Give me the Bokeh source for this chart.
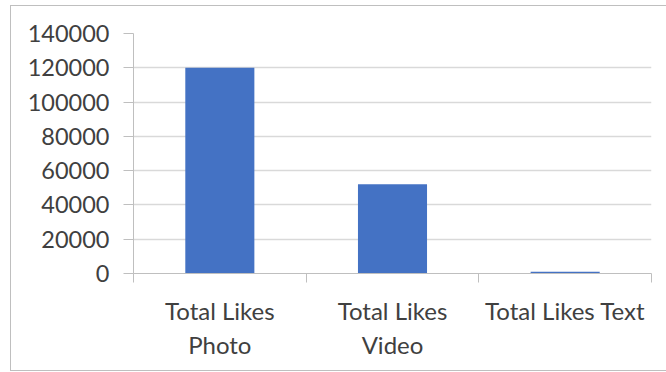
from bokeh.plotting import figure
from bokeh.models import Range1d, FixedTicker
from bokeh.embed import file_html
from bokeh.resources import INLINE

# Data
categories = ["Total Likes Photo", "Total Likes Video", "Total Likes Text"]
tick_labels = ["Total Likes\nPhoto", "Total Likes\nVideo", "Total Likes Text"]
likes = [120000, 52000, 1000]
y_ticks = [0, 20000, 40000, 60000, 80000, 100000, 120000, 140000]

FONT = "Lato"
TEXT = "#404040"
GRID = "#d9d9d9"
AXIS = "#bfbfbf"

centers = [i + 0.5 for i in range(len(categories))]
bounds = list(range(len(categories) + 1))

p = figure(
    width=656, height=366,
    x_range=Range1d(0, len(categories)),
    y_range=Range1d(0, 140000),
    output_backend="svg", toolbar_location=None,
    min_border_left=122, min_border_right=16,
    min_border_top=27, min_border_bottom=99,
    margin=(5, 0, 0, 10),
    styles={"border-left": "1px solid #bfbfbf",
            "border-top": "1px solid #bfbfbf",
            "border-bottom": "1px solid #bfbfbf"},
)
p.outline_line_color = None
p.background_fill_color = "white"

p.vbar(x=centers, top=likes, width=0.4, bottom=0,
       fill_color="#4472c4", line_color=None)

# Y axis
p.yaxis.ticker = FixedTicker(ticks=y_ticks)
p.yaxis.formatter.use_scientific = False
p.yaxis.axis_line_color = AXIS
p.yaxis.major_tick_line_color = AXIS
p.yaxis.major_tick_out = 10
p.yaxis.major_tick_in = 0
p.yaxis.minor_tick_line_color = None
p.yaxis.major_label_text_font = FONT
p.yaxis.major_label_text_font_size = "23.5px"
p.yaxis.major_label_text_color = TEXT
p.yaxis.major_label_standoff = 14

# X axis: labels at category centres, tick marks on category boundaries
p.xaxis.ticker = FixedTicker(ticks=centers, minor_ticks=bounds)
p.xaxis.major_label_overrides = {c: t for c, t in zip(centers, tick_labels)}
p.xaxis.axis_line_color = AXIS
p.xaxis.major_tick_line_color = None
p.xaxis.major_tick_out = 0
p.xaxis.major_tick_in = 0
p.xaxis.minor_tick_line_color = AXIS
p.xaxis.minor_tick_out = 9
p.xaxis.minor_tick_in = 0
p.xaxis.major_label_text_font = FONT
p.xaxis.major_label_text_font_size = "24px"
p.xaxis.major_label_text_color = TEXT
p.xaxis.major_label_text_line_height = 1.2
p.xaxis.major_label_standoff = 13

p.xgrid.grid_line_color = None
p.ygrid.ticker = FixedTicker(ticks=y_ticks)
p.ygrid.grid_line_color = GRID
p.ygrid.grid_line_width = 1.5

open("out.html", "w").write(file_html(p, INLINE))
